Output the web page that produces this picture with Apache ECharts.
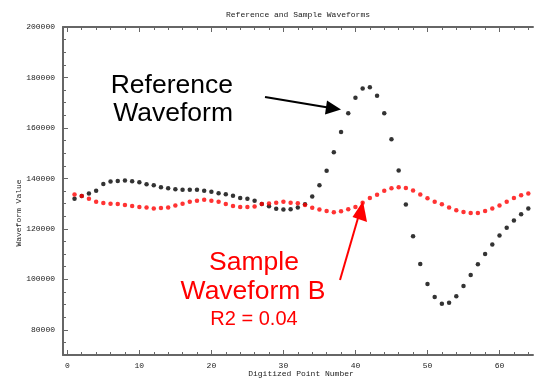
<!DOCTYPE html>
<html>
<head>
<meta charset="utf-8">
<script src="https://cdn.jsdelivr.net/npm/echarts@6/dist/echarts.min.js"></script>
<style>
html,body{margin:0;padding:0;background:#fff;}
#chart{width:534px;height:378px;}
</style>
</head>
<body>
<div id="chart"></div>
<script>
// ---- data ----
const pointNumbers = [1,2,3,4,5,6,7,8,9,10,11,12,13,14,15,16,17,18,19,20,21,22,23,24,25,26,27,28,29,30,31,32,33,34,35,36,37,38,39,40,41,42,43,44,45,46,47,48,49,50,51,52,53,54,55,56,57,58,59,60,61,62,63,64];
const referenceWaveform = [131900,133000,134000,135100,137800,138800,139000,139200,138900,138500,137700,137300,136500,136100,135700,135500,135500,135500,135100,134700,134100,133700,133100,132200,131900,131100,129800,129000,128000,127700,127800,128500,129700,132800,137300,143000,150400,158400,165800,172000,175600,176100,172800,165800,155500,143100,129600,117100,106100,98100,93000,90300,90700,93300,97300,101700,106000,110000,113800,117400,120400,123300,125800,128100];
const sampleWaveformB = [133600,133000,131900,130700,130200,129900,129800,129500,129100,128700,128500,128100,128300,128500,129300,129900,130700,131100,131500,131100,130700,129800,129100,128700,128700,128900,129800,130000,130300,130700,130300,130100,129500,128400,127700,127100,126600,127000,127800,128700,130300,132200,133500,135100,136100,136500,136200,135200,133600,132100,130700,129700,128500,127400,126700,126300,126300,127100,128100,129300,130700,132200,133300,134000];
const xTickLabels = [0,10,20,30,40,50,60];
const xMinorTicks = [0,2,4,6,8,10,12,14,16,18,20,22,24,26,28,30,32,34,36,38,40,42,44,46,48,50,52,54,56,58,60,62,64];
const yTickLabels = [80000,100000,120000,140000,160000,180000,200000];
const yMinorTicks = [75000,80000,85000,90000,95000,100000,105000,110000,115000,120000,125000,130000,135000,140000,145000,150000,155000,160000,165000,170000,175000,180000,185000,190000,195000];

const refData = pointNumbers.map((n,i)=>[n, referenceWaveform[i]]);
const sampleData = pointNumbers.map((n,i)=>[n, sampleWaveformB[i]]);

const AXIS_COLOR = '#666666';
const MONO = '"Liberation Mono", "DejaVu Sans Mono", monospace';
const SANS = '"Liberation Sans", Arial, sans-serif';
const X_MIN = -0.6, X_MAX = 64.65, Y_MIN = 70000, Y_MAX = 200000;

function xAx(pos, opts) {
  return Object.assign({
    type: 'value', position: pos, min: X_MIN, max: X_MAX,
    splitLine: {show: false},
    axisLine: {show: false, onZero: false},
    axisLabel: {show: false},
    axisTick: {show: false}
  }, opts);
}
function yAx(opts) {
  return Object.assign({
    type: 'value', position: 'left', min: Y_MIN, max: Y_MAX,
    splitLine: {show: false},
    axisLine: {show: false, onZero: false},
    axisLabel: {show: false},
    axisTick: {show: false}
  }, opts);
}

const chart = echarts.init(document.getElementById('chart'), null, {renderer: 'canvas'});
chart.setOption({
  animation: false,
  backgroundColor: '#ffffff',
  title: {
    text: 'Reference and Sample Waveforms',
    left: 293, top: 6, textAlign: 'center',
    textStyle: {fontFamily: MONO, fontSize: 8, fontWeight: 'normal', color: '#222'}
  },
  grid: {left: 63, right: 1, top: 27, bottom: 23, containLabel: false},
  xAxis: [
    xAx('bottom', {
      axisLine: {show: true, onZero: false, lineStyle: {color: AXIS_COLOR, width: 2}},
      axisLabel: {show: true, customValues: xTickLabels, formatter: v => String(v), fontFamily: MONO, fontSize: 8, color: '#222', margin: 7},
      axisTick: {show: true, inside: true, length: 5, customValues: xTickLabels, lineStyle: {color: AXIS_COLOR, width: 1}}
    }),
    xAx('bottom', {
      axisTick: {show: true, inside: true, length: 3, customValues: xMinorTicks, lineStyle: {color: AXIS_COLOR, width: 1}}
    }),
    xAx('top', {
      axisLine: {show: true, onZero: false, lineStyle: {color: AXIS_COLOR, width: 2}},
      axisTick: {show: true, inside: true, length: 5, customValues: xTickLabels, lineStyle: {color: AXIS_COLOR, width: 1}}
    }),
    xAx('top', {
      axisTick: {show: true, inside: true, length: 3, customValues: xMinorTicks, lineStyle: {color: AXIS_COLOR, width: 1}}
    })
  ],
  yAxis: [
    yAx({
      axisLine: {show: true, onZero: false, lineStyle: {color: AXIS_COLOR, width: 2}},
      axisLabel: {show: true, customValues: yTickLabels, formatter: v => String(v), fontFamily: MONO, fontSize: 8, color: '#222', margin: 8},
      axisTick: {show: true, inside: true, length: 5, customValues: yTickLabels, lineStyle: {color: AXIS_COLOR, width: 1}}
    }),
    yAx({
      axisTick: {show: true, inside: true, length: 3, customValues: yMinorTicks, lineStyle: {color: AXIS_COLOR, width: 1}}
    })
  ],
  graphic: [
    {type: 'text', x: 19, y: 213, rotation: Math.PI/2,
     style: {text: 'Waveform Value', fontFamily: MONO, fontSize: 8, fill: '#222', align: 'center', verticalAlign: 'middle'}},
    {type: 'text', x: 301, y: 374,
     style: {text: 'Digitized Point Number', fontFamily: MONO, fontSize: 8, fill: '#222', align: 'center', verticalAlign: 'middle'}},
    {type: 'text', x: 233, y: 86,
     style: {text: 'Reference', fontFamily: SANS, fontSize: 26.5, fill: '#000', align: 'right', verticalAlign: 'middle'}},
    {type: 'text', x: 233, y: 114,
     style: {text: 'Waveform', fontFamily: SANS, fontSize: 26.5, fill: '#000', align: 'right', verticalAlign: 'middle'}},
    {type: 'line', shape: {x1: 265, y1: 97, x2: 328, y2: 107.5}, style: {stroke: '#000', lineWidth: 2}},
    {type: 'polygon', shape: {points: [[341, 109.5], [327, 100.5], [325, 114.5]]}, style: {fill: '#000'}},
    {type: 'text', x: 254, y: 263,
     style: {text: 'Sample', fontFamily: SANS, fontSize: 26.5, fill: '#ff0000', align: 'center', verticalAlign: 'middle'}},
    {type: 'text', x: 253, y: 292,
     style: {text: 'Waveform B', fontFamily: SANS, fontSize: 26.5, fill: '#ff0000', align: 'center', verticalAlign: 'middle'}},
    {type: 'text', x: 254, y: 319,
     style: {text: 'R2 = 0.04', fontFamily: SANS, fontSize: 20, fill: '#ff0000', align: 'center', verticalAlign: 'middle'}},
    {type: 'line', shape: {x1: 340, y1: 280, x2: 358, y2: 218}, style: {stroke: '#ff0000', lineWidth: 2}},
    {type: 'polygon', shape: {points: [[363, 201], [352.5, 217], [367, 222]]}, style: {fill: '#ff0000'}}
  ],
  series: [
    {name: 'Reference Waveform', type: 'scatter', xAxisIndex: 0, yAxisIndex: 0, data: refData,
     symbol: 'circle', symbolSize: 4.5, itemStyle: {color: '#000000'}, z: 2},
    {name: 'Sample Waveform B', type: 'scatter', xAxisIndex: 0, yAxisIndex: 0, data: sampleData,
     symbol: 'circle', symbolSize: 4.5, itemStyle: {color: '#ff0000'}, z: 3}
  ]
});
</script>
</body>
</html>
